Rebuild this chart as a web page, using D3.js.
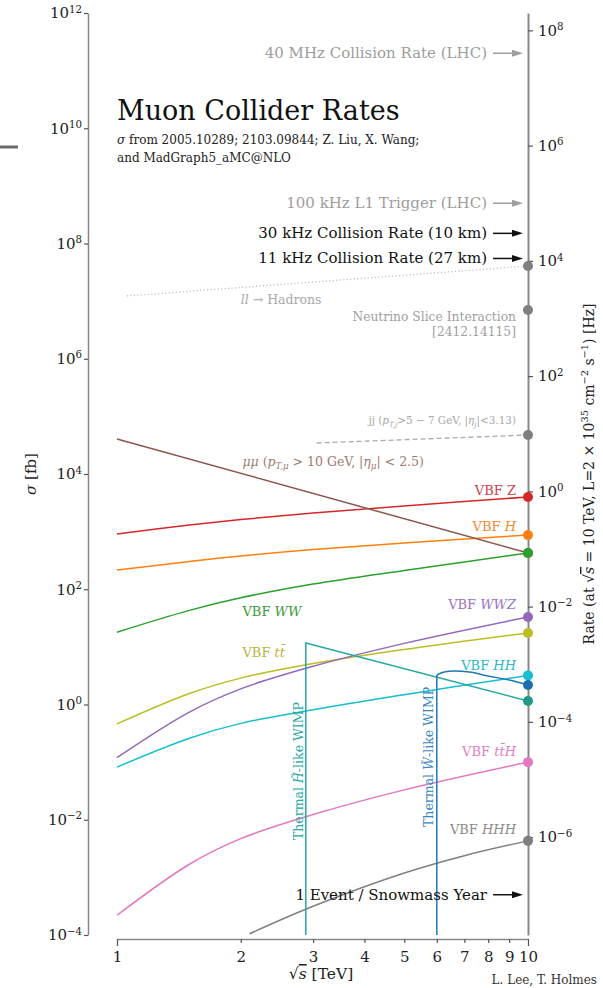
<!DOCTYPE html>
<html>
<head>
<meta charset="utf-8">
<script src="https://cdn.jsdelivr.net/npm/d3@7"></script>
<style>
body { margin: 0; background: #fff; }
text { font-family: "DejaVu Serif", serif; }
</style>
</head>
<body>
<svg id="chart" width="603" height="988"></svg>
<script>
// luminosity 2e35 cm^-2 s^-1 expressed in fb^-1 s^-1
var lumi = 2e-4;

// sqrt(s) in TeV, cross sections in fb
var sqrtS  = [1, 1.5, 2, 3, 5, 10];
var vbfZ   = [910, 1300, 1620, 2100, 2790, 4000];
var vbfH   = [215, 303, 378, 490, 635, 870];
var vbfWW  = [18, 43, 71, 123, 212, 425];
var vbfTT  = [0.46, 1.55, 2.87, 5.13, 9.0, 17.4];
var vbfWWZ = [0.12, 0.74, 1.87, 4.6, 11.5, 33];
var vbfHH  = [0.082, 0.26, 0.47, 0.81, 1.48, 3.2];
var vbfTTH = [2.2e-4, 1.69e-3, 4.7e-3, 0.0123, 0.033, 0.1];

var hhhS   = [2.1, 3, 5, 7, 10];
var vbfHHH = [1.05e-4, 3.15e-4, 1.19e-3, 2.38e-3, 4.3e-3];

var mumuS = [1, 10];
var mumu  = [40500, 425];
var jjS   = [3.06, 10];
var jj    = [34500, 47500];
var llS   = [1.057, 10];
var llHad = [1.23e7, 4.07e7];
var nuSlice = 7.0e6;

var higgsinoS = [2.88, 2.88, 10];
var higgsino  = [1e-4, 11.7, 1.15];
var winoS = [6.0, 6.0, 6.25, 6.6, 7.2, 8.0, 9.0, 10];
var wino  = [1e-4, 3.25, 3.66, 3.81, 3.66, 3.12, 2.66, 2.18];

// reference rates in Hz
var rateNames  = ["40 MHz Collision Rate (LHC)", "100 kHz L1 Trigger (LHC)",
                  "30 kHz Collision Rate (10 km)", "11 kHz Collision Rate (27 km)",
                  "1 Event / Snowmass Year"];
var rateValues = [4e7, 1e5, 3e4, 1.1e4, 1e-7];

var xTicks     = [1, 2, 3, 4, 5, 6, 7, 8, 9, 10];
var sigmaTicks = [1e-4, 1e-2, 1, 1e2, 1e4, 1e6, 1e8, 1e10, 1e12];
var rateTicks  = [1e-6, 1e-4, 1e-2, 1, 1e2, 1e4, 1e6, 1e8];

var svg = d3.select("#chart");

var x = d3.scaleLog().domain([1, 10]).range([117, 528]);
var y = d3.scaleLog().domain([1e-4, 1e12]).range([935, 13]);
var yRate = d3.scaleLog().domain([1e-4 * lumi, 1e12 * lumi]).range([935, 13]);

function expText(e) { return e < 0 ? "\u2212" + (-e) : "" + e; }

function powerLabel(d) {
  var e = Math.round(Math.log10(d));
  var t = d3.select(this).text(null);
  t.append("tspan").text("10");
  t.append("tspan").attr("dy", "-0.55em").attr("font-size", "0.68em").text(expText(e));
}

function rich(t, parts, fs) {
  var level = 0;
  parts.forEach(function(p) {
    var target = p.sub ? 0.3 : (p.sup ? -0.45 : 0);
    var ts = t.append("tspan").text(p.t);
    if (target !== level) ts.attr("dy", ((target - level) * fs) + "px");
    if (p.sub || p.sup) ts.attr("font-size", fs * 0.7);
    if (p.i) ts.attr("font-style", "italic");
    if (p.over) ts.style("text-decoration", "overline");
    level = target;
  });
}

// stray grey bar at the left edge
svg.append("line").attr("x1", 0).attr("x2", 18).attr("y1", 147).attr("y2", 147)
  .attr("stroke", "#6a6a6a").attr("stroke-width", 3);

// axes
var gL = svg.append("g").attr("transform", "translate(88,0)")
  .call(d3.axisLeft(y).tickValues(sigmaTicks).tickSize(4).tickSizeOuter(0).tickPadding(2));
var gR = svg.append("g").attr("transform", "translate(528,0)")
  .call(d3.axisRight(yRate).tickValues(rateTicks).tickSize(5).tickSizeOuter(0).tickPadding(5));
var gB = svg.append("g").attr("transform", "translate(0,939)")
  .call(d3.axisBottom(x).tickValues(xTicks).tickFormat(d3.format("d")).tickSize(4).tickSizeOuter(0).tickPadding(8));

[gL, gR, gB].forEach(function(g) {
  g.attr("font-family", null).attr("font-size", null);
  g.select(".domain").attr("stroke", "#888").attr("stroke-width", 1.5);
  g.selectAll(".tick line").attr("stroke", "#555").attr("stroke-width", 1.2);
  g.selectAll(".tick text").attr("fill", "#222").attr("font-size", 15);
});
gR.select(".domain").attr("stroke-width", 2);
gL.selectAll(".tick text").each(powerLabel);
gR.selectAll(".tick text").each(powerLabel);
gB.selectAll(".tick line").filter(function(d) { return d === 1 || d === 10; }).attr("y2", 7);

// axis titles
var sigLab = svg.append("text").attr("transform", "translate(36,474) rotate(-90)")
  .attr("text-anchor", "middle").attr("font-size", 15).attr("fill", "#222");
rich(sigLab, [{t: "\u03c3", i: true}, {t: " [fb]"}], 15);

var rateLab = svg.append("text").attr("transform", "translate(594,474) rotate(-90)")
  .attr("text-anchor", "middle").attr("font-size", 14).attr("fill", "#222");
rich(rateLab, [{t: "Rate (at \u221a"}, {t: "s", i: true, over: true}, {t: " = 10 TeV, L=2 \u00d7 10"},
  {t: "35", sup: true}, {t: " cm"}, {t: "\u22122", sup: true}, {t: " s"}, {t: "\u22121", sup: true},
  {t: ") [Hz]"}], 14);

var xLab = svg.append("text").attr("x", 321).attr("y", 979)
  .attr("text-anchor", "middle").attr("font-size", 15.5).attr("fill", "#222");
rich(xLab, [{t: "\u221a"}, {t: "s", i: true, over: true}, {t: " [TeV]"}], 15.5);

svg.append("text").attr("x", 597).attr("y", 984).attr("text-anchor", "end")
  .attr("font-size", 12).attr("fill", "#333").text("L. Lee, T. Holmes");

// title block
svg.append("text").attr("x", 117).attr("y", 120).attr("font-size", 27).attr("fill", "#111")
  .text("Muon Collider Rates");
var sub1 = svg.append("text").attr("x", 117).attr("y", 144).attr("font-size", 12).attr("fill", "#222");
rich(sub1, [{t: "\u03c3", i: true}, {t: " from 2005.10289; 2103.09844; Z. Liu, X. Wang;"}], 12);
svg.append("text").attr("x", 117).attr("y", 162).attr("font-size", 12).attr("fill", "#222")
  .text("and MadGraph5_aMC@NLO");

// curves
var smooth = d3.line().x(function(d) { return x(d[0]); }).y(function(d) { return y(d[1]); })
  .curve(d3.curveCatmullRom.alpha(0.5));
var bump = d3.line().x(function(d) { return x(d[0]); }).y(function(d) { return y(d[1]); })
  .curve(d3.curveMonotoneX);
var straight = d3.line().x(function(d) { return x(d[0]); }).y(function(d) { return y(d[1]); });

function pts(xs, ys) { return xs.map(function(v, i) { return [v, ys[i]]; }); }

var curves = [
  {xs: sqrtS, ys: vbfZ,   color: "#d62728"},
  {xs: sqrtS, ys: vbfH,   color: "#ff7f0e"},
  {xs: sqrtS, ys: vbfWW,  color: "#2ca02c"},
  {xs: sqrtS, ys: vbfTT,  color: "#bcbd22"},
  {xs: sqrtS, ys: vbfWWZ, color: "#9467bd"},
  {xs: sqrtS, ys: vbfHH,  color: "#17becf"},
  {xs: sqrtS, ys: vbfTTH, color: "#e377c2"},
  {xs: hhhS,  ys: vbfHHH, color: "#7f7f7f"}
];

svg.append("path").datum(pts(llS, llHad)).attr("d", straight).attr("fill", "none")
  .attr("stroke", "#b5b5b5").attr("stroke-width", 1.3).attr("stroke-dasharray", "1,2.5");
svg.append("path").datum(pts(jjS, jj)).attr("d", straight).attr("fill", "none")
  .attr("stroke", "#aaa").attr("stroke-width", 1.3).attr("stroke-dasharray", "5,3");

curves.forEach(function(c) {
  svg.append("path").datum(pts(c.xs, c.ys)).attr("d", smooth).attr("fill", "none")
    .attr("stroke", c.color).attr("stroke-width", 1.5);
});

svg.append("path").datum(pts(mumuS, mumu)).attr("d", straight).attr("fill", "none")
  .attr("stroke", "#8c564b").attr("stroke-width", 1.5);

// dark matter thresholds
svg.append("path").datum(pts(higgsinoS, higgsino)).attr("d", straight).attr("fill", "none")
  .attr("stroke", "#27a8a2").attr("stroke-width", 1.5);
var winoPts = pts(winoS, wino);
svg.append("path").datum(winoPts.slice(0, 2)).attr("d", straight).attr("fill", "none")
  .attr("stroke", "#1f77b4").attr("stroke-width", 1.5);
svg.append("path").datum(winoPts.slice(1)).attr("d", bump).attr("fill", "none")
  .attr("stroke", "#1f77b4").attr("stroke-width", 1.5);

// end-point dots on the rate axis
var dots = [
  [llHad[1], "#7f7f7f"], [nuSlice, "#7f7f7f"], [jj[1], "#7f7f7f"],
  [mumu[1], "#8c564b"]
];
curves.forEach(function(c) { dots.push([c.ys[c.ys.length - 1], c.color]); });
dots.push([wino[wino.length - 1], "#1f6fae"]);
dots.push([higgsino[higgsino.length - 1], "#1f9a88"]);
svg.selectAll("circle.end").data(dots).enter().append("circle").attr("class", "end")
  .attr("cx", x(10)).attr("cy", function(d) { return y(d[0]); }).attr("r", 5)
  .attr("fill", function(d) { return d[1]; });

// rate arrows
var rateColors = ["#9d9d9d", "#9d9d9d", "#111", "#111", "#111"];
rateValues.forEach(function(r, i) {
  var yy = yRate(r), col = rateColors[i];
  svg.append("text").attr("x", 487).attr("y", yy + 5).attr("text-anchor", "end")
    .attr("font-size", 15).attr("fill", col).text(rateNames[i]);
  svg.append("line").attr("x1", 493).attr("x2", 515).attr("y1", yy).attr("y2", yy)
    .attr("stroke", col).attr("stroke-width", 1.5);
  svg.append("path").attr("d", "M512," + (yy - 3.5) + "L523," + yy + "L512," + (yy + 3.5) + "Z")
    .attr("fill", col);
});

// curve labels
function label(xv, sv, anchor, fs, color, parts) {
  var t = svg.append("text").attr("x", x(xv)).attr("y", y(sv) + fs * 0.36)
    .attr("text-anchor", anchor).attr("font-size", fs).attr("fill", color);
  rich(t, parts, fs);
  return t;
}
var endX = 9.35;
label(endX, 5270, "end", 13, "#cf3f4a", [{t: "VBF Z"}]);
label(endX, 1250, "end", 13, "#f28a2e", [{t: "VBF "}, {t: "H", i: true}]);
label(2.02, 42, "start", 13, "#3a9a3a", [{t: "VBF "}, {t: "WW", i: true}]);
label(2.02, 8.1, "start", 13, "#b5b53a", [{t: "VBF "}, {t: "tt\u0304", i: true}]);
label(endX, 55, "end", 13, "#9a73c0", [{t: "VBF "}, {t: "WWZ", i: true}]);
label(endX, 4.8, "end", 13, "#2ab7c8", [{t: "VBF "}, {t: "HH", i: true}]);
label(endX, 0.156, "end", 13, "#e07fc0", [{t: "VBF "}, {t: "tt\u0304H", i: true}]);
label(endX, 6.9e-3, "end", 13, "#8a8a8a", [{t: "VBF "}, {t: "HHH", i: true}]);

label(2.02, 16800, "start", 12.5, "#a07a72", [{t: "\u03bc\u03bc", i: true}, {t: " ("}, {t: "p", i: true},
  {t: "T,\u03bc", sub: true, i: true}, {t: " > 10 GeV, |"}, {t: "\u03b7", i: true}, {t: "\u03bc", sub: true, i: true},
  {t: "| < 2.5)"}]);
label(endX, 86500, "end", 10.4, "#a8a8a8", [{t: "jj ("}, {t: "p", i: true}, {t: "T,j", sub: true, i: true},
  {t: ">5 \u2212 7 GeV, |"}, {t: "\u03b7", i: true}, {t: "j", sub: true, i: true}, {t: "|<3.13)"}]);
label(endX, 5.5e6, "end", 12.3, "#a0a0a0", [{t: "Neutrino Slice Interaction"}]);
label(endX, 3.0e6, "end", 12.3, "#a0a0a0", [{t: "[2412.14115]"}]);
label(2.0, 1.05e7, "start", 12.5, "#a8a8a8", [{t: "ll", i: true}, {t: " \u2192 Hadrons"}]);

// rotated WIMP labels
var hLab = svg.append("text").attr("transform", "translate(" + (x(2.88) - 3) + "," + y(0.070) + ") rotate(-90)")
  .attr("text-anchor", "middle").attr("font-size", 12.5).attr("fill", "#2aa7a3");
rich(hLab, [{t: "Thermal "}, {t: "H\u0303", i: true}, {t: "-like WIMP"}], 12.5);
var wLab = svg.append("text").attr("transform", "translate(" + (x(6.0) - 4) + "," + y(0.123) + ") rotate(-90)")
  .attr("text-anchor", "middle").attr("font-size", 12.5).attr("fill", "#3a86bf");
rich(wLab, [{t: "Thermal "}, {t: "W\u0303", i: true}, {t: "-like WIMP"}], 12.5);
</script>
</body>
</html>
